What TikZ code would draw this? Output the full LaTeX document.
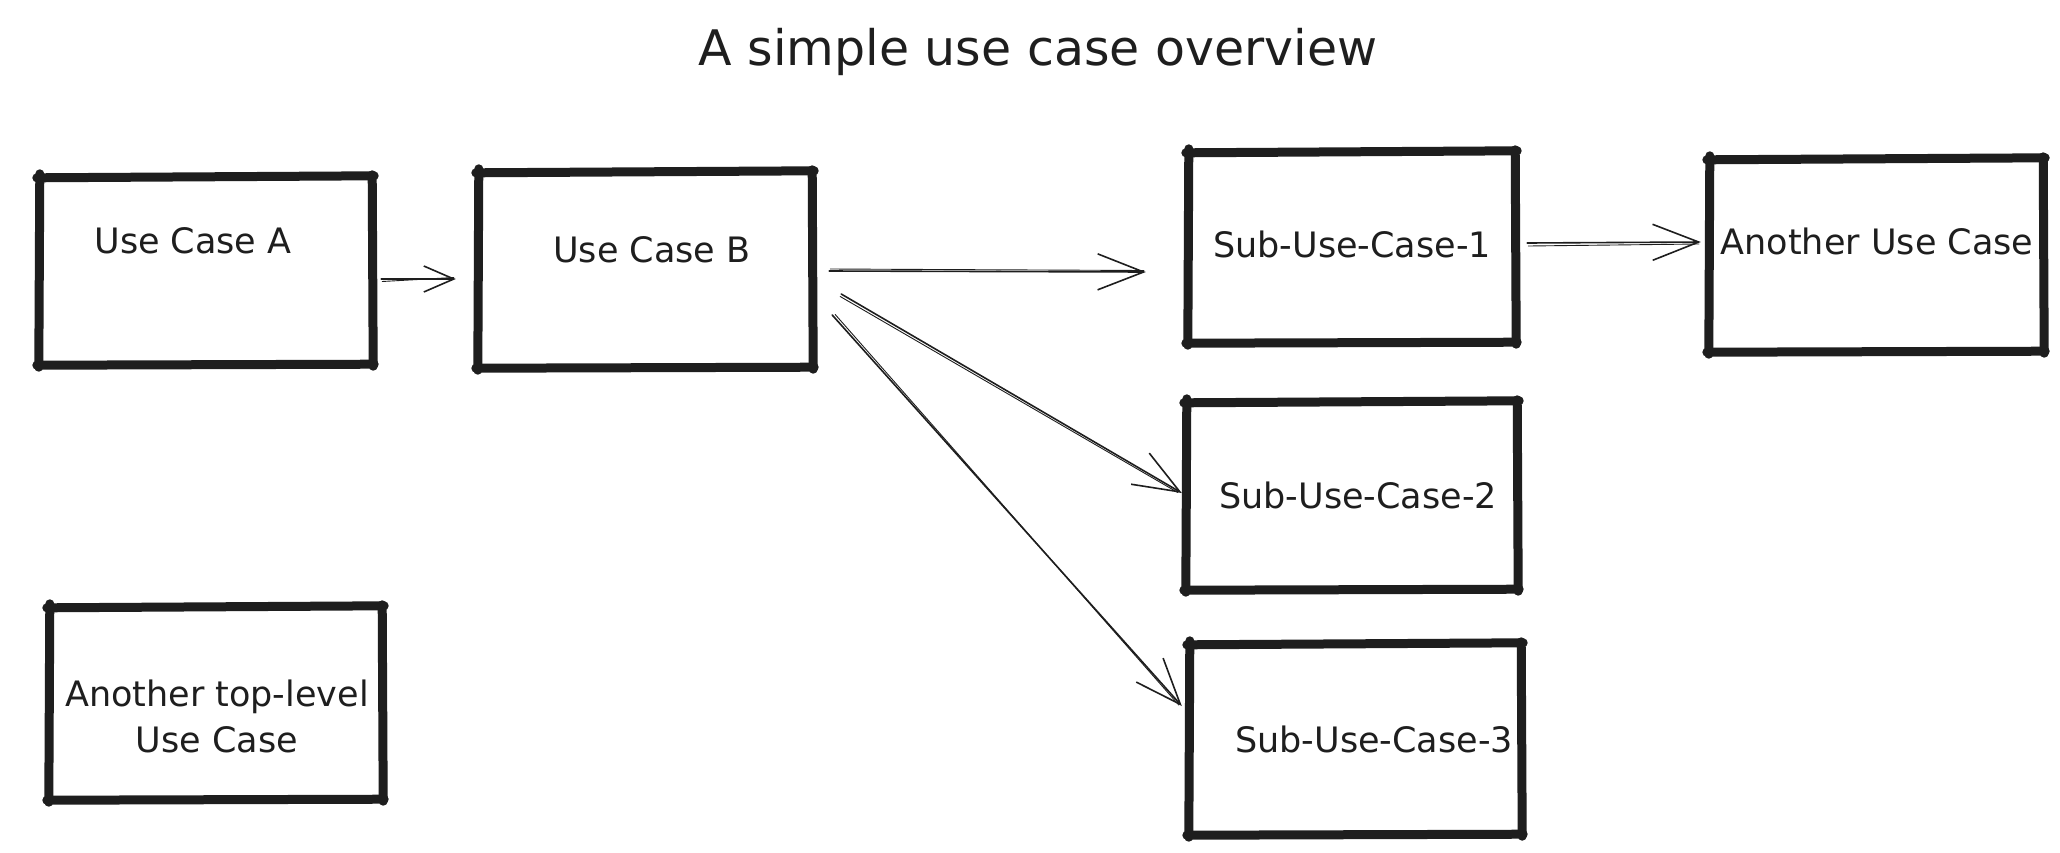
\documentclass[tikz,border=0pt]{standalone}
\usepackage{fontspec}
\setmainfont{DejaVu Sans}
\usetikzlibrary{calc,arrows.meta}
\definecolor{ink}{HTML}{1E1E1E}
\tikzset{
  boxnode/.style={rectangle, inner sep=0pt, draw=none},
  skl/.style={draw=ink, line width=9pt, line cap=round, line join=round},
  lbl/.style={text=ink, font=\fontsize{35}{46}\selectfont, inner sep=0pt, align=center},
  arr/.style={draw=ink, line width=1.6pt, line cap=round, -{Straight Barb[length=46pt,width=36pt,line width=1.6pt]}},
  arrsmall/.style={draw=ink, line width=1.6pt, line cap=round, -{Straight Barb[length=30pt,width=26pt,line width=1.6pt]}},
  ghost/.style={draw=ink, line width=0.9pt, line cap=round}
}
\newcommand\skbox[1]{%
  \draw[skl] ($(#1.north west)+(-2,1)$) -- ($(#1.north east)+(2,-1)$);
  \draw[skl] ($(#1.north east)+(0,-2)$) -- ($(#1.south east)+(1,2)$);
  \draw[skl] ($(#1.south east)+(2,0)$) -- ($(#1.south west)+(-2,1)$);
  \draw[skl] ($(#1.south west)+(0,3)$) -- ($(#1.north west)+(1,-3)$);
}
\begin{document}
\begin{tikzpicture}[x=1pt,y=-1pt]
\useasboundingbox[fill=white] (0,0) rectangle (2060,852);

% title
\node[text=ink, font=\fontsize{49}{56}\selectfont, inner sep=0pt] (title) at (1038,52) {A simple use case overview};

% boxes
\node[boxnode, minimum width=333pt, minimum height=187pt] (A)   at (205.5,270.5) {};
\node[boxnode, minimum width=334pt, minimum height=195pt] (B)   at (645,269.5) {};
\node[boxnode, minimum width=327pt, minimum height=190pt] (S1)  at (1351.5,247) {};
\node[boxnode, minimum width=334pt, minimum height=192pt] (AUC) at (1876,255) {};
\node[boxnode, minimum width=331pt, minimum height=187pt] (S2)  at (1351.5,495.5) {};
\node[boxnode, minimum width=332pt, minimum height=190pt] (S3)  at (1355,739) {};
\node[boxnode, minimum width=333pt, minimum height=192pt] (T)   at (215.5,703) {};

\skbox{A}\skbox{B}\skbox{S1}\skbox{AUC}\skbox{S2}\skbox{S3}\skbox{T}

% labels
\node[lbl] (tA)   at (193,241)  {Use Case A};
\node[lbl] (tB)   at (652,250)  {Use Case B};
\node[lbl] (tS1)  at (1352,244) {Sub-Use-Case-1};
\node[lbl] (tAUC) at (1877,241) {Another Use Case};
\node[lbl] (tS2)  at (1358,495) {Sub-Use-Case-2};
\node[lbl] (tS3)  at (1374,739) {Sub-Use-Case-3};
\node[lbl] (tT)   at (217,716)  {Another top-level\\Use Case};

% connectors
\draw[arrsmall] ($(A.east)+(9,8.5)$) -- ($(B.west)+(-22,9.5)$);
\draw[ghost] ($(A.east)+(10,11)$) -- ($(B.west)+(-24,8)$);

\draw[arr] ($(B.east)+(17,1.5)$) -- ($(S1.west)+(-42,25)$);
\draw[ghost] ($(B.east)+(18,-0.5)$) -- ($(S1.west)+(-44,23.5)$);

\draw[arr] ($(B.east)+(29,24.5)$) -- ($(S2.west)+(-4,-2.5)$);
\draw[ghost] ($(B.east)+(28,27)$) -- ($(S2.west)+(-8,-3)$);

\draw[arr] ($(B.east)+(20,45.5)$) -- ($(S3.west)+(-7,-33)$);
\draw[ghost] ($(B.east)+(23,45)$) -- ($(S3.west)+(-10,-34)$);

\draw[arr] ($(S1.east)+(12,-4)$) -- ($(AUC.west)+(-8,-13)$);
\draw[ghost] ($(S1.east)+(13,-1)$) -- ($(AUC.west)+(-10,-11)$);
\end{tikzpicture}
\end{document}
